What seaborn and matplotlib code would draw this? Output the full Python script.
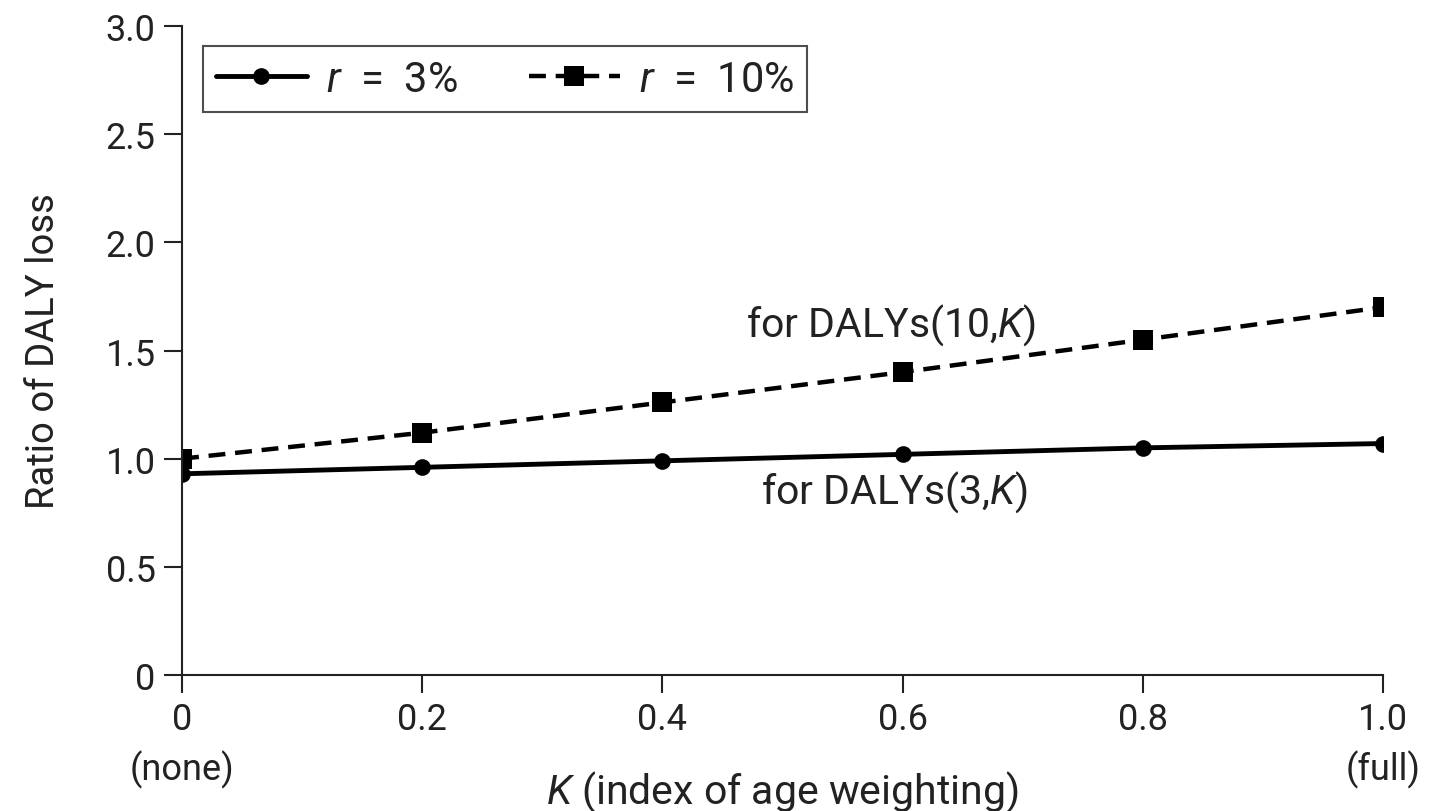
import pandas as pd
import matplotlib.pyplot as plt
import seaborn as sns

# K = index of age weighting
k_values = [0.0, 0.2, 0.4, 0.6, 0.8, 1.0]
ratio_r3 = [0.93, 0.96, 0.99, 1.02, 1.05, 1.07]
ratio_r10 = [1.00, 1.12, 1.26, 1.40, 1.55, 1.70]
x_ticks = [0.0, 0.2, 0.4, 0.6, 0.8, 1.0]
x_tick_labels = ['0\n(none)', '0.2', '0.4', '0.6', '0.8', '1.0\n(full)']
y_ticks = [0, 0.5, 1.0, 1.5, 2.0, 2.5, 3.0]
y_tick_labels = ['0', '0.5', '1.0', '1.5', '2.0', '2.5', '3.0']

sns.set_style('ticks')
plt.rcParams['font.family'] = ['Roboto', 'DejaVu Sans']
plt.rcParams['mathtext.fontset'] = 'custom'
plt.rcParams['mathtext.it'] = 'Roboto:italic'
plt.rcParams['mathtext.rm'] = 'Roboto'

ink = '#222222'
df3 = pd.DataFrame({'K': k_values, 'ratio': ratio_r3})
df10 = pd.DataFrame({'K': k_values, 'ratio': ratio_r10})

fig = plt.figure(figsize=(14.29, 8.12), dpi=100)
ax = fig.add_axes([0.1274, 0.1675, 0.8404, 0.7992])

sns.lineplot(data=df3, x='K', y='ratio', ax=ax, color='black', linewidth=3.5,
             marker='o', markersize=12, markeredgewidth=0, label='$r$  =  3%')
sns.lineplot(data=df10, x='K', y='ratio', ax=ax, color='black', linewidth=3.2,
             marker='s', markersize=14, markeredgewidth=0, dashes=(3.8, 2.2),
             label='$r$  =  10%')

ax.set_xlim(0, 1.0)
ax.set_ylim(0, 3.0)
ax.set_xticks(x_ticks)
ax.set_xticklabels(x_tick_labels, linespacing=1.4)
ax.set_yticks(y_ticks)
ax.set_yticklabels(y_tick_labels)
ax.tick_params(axis='both', length=13, width=1.5, colors=ink, labelsize=26, pad=6)
for side in ['left', 'bottom']:
    ax.spines[side].set_linewidth(1.5)
    ax.spines[side].set_color(ink)
sns.despine(ax=ax)

ax.set_xlabel('$K$ (index of age weighting)', fontsize=29.5, color=ink)
ax.set_ylabel('Ratio of DALY loss', fontsize=27.5, color=ink)
ax.xaxis.set_label_coords(0.5, -0.143)
ax.yaxis.set_label_coords(-0.1, 0.5)

ax.text(0.59, 1.62, 'for DALYs(10,$K$)', fontsize=29.5, color=ink, ha='center', va='center')
ax.text(0.593, 0.85, 'for DALYs(3,$K$)', fontsize=29.5, color=ink, ha='center', va='center')

leg = ax.legend(loc='upper left', ncol=2, fontsize=30, frameon=True, fancybox=False,
                edgecolor=ink, handlelength=2.2, handletextpad=0.45, columnspacing=1.7,
                bbox_to_anchor=(0.0175, 0.969), borderpad=0.3, borderaxespad=0)
leg.get_frame().set_linewidth(1.5)
for t in leg.get_texts():
    t.set_color(ink)

fig.savefig('out.png', dpi=100)
